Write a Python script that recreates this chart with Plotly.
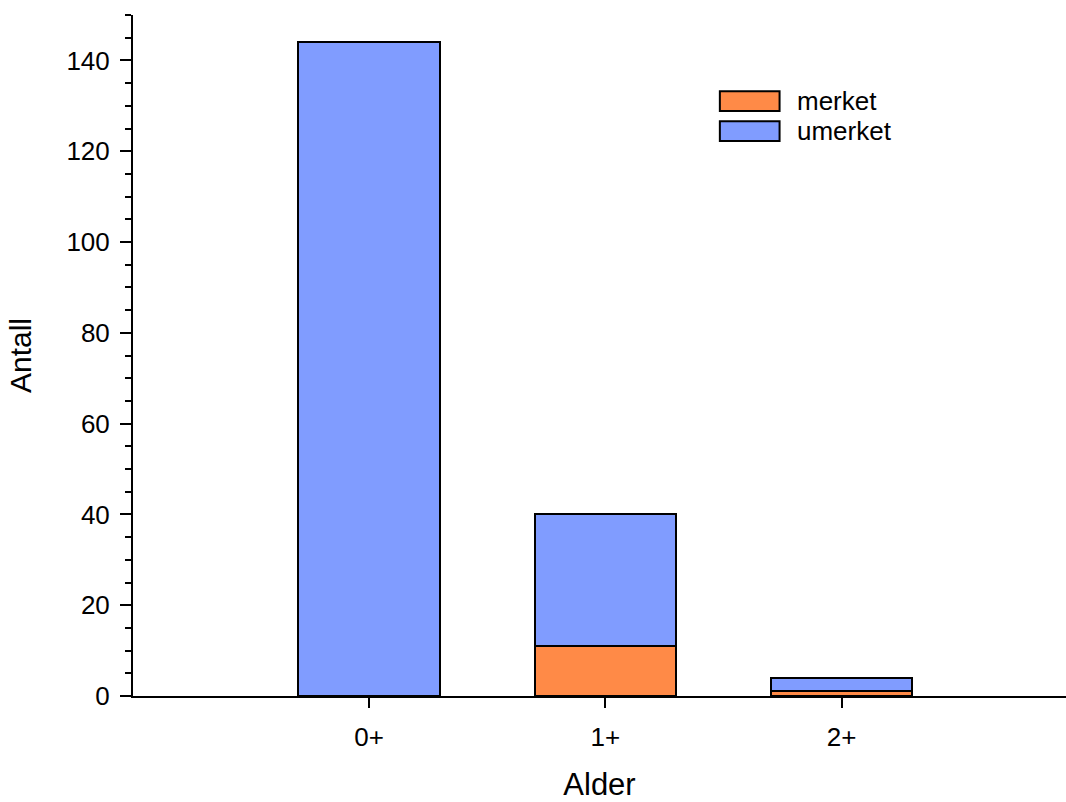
import plotly.graph_objects as go

# Age groups and counts per group
alder = ["0+", "1+", "2+"]
merket = [0, 11, 1]
umerket = [144, 29, 3]

serie_navn = ["merket", "umerket"]
farger = ["#FF8A47", "#809CFF"]

font_family = "Liberation Sans, Arial, sans-serif"

fig = go.Figure()
for navn, verdier, farge in zip(serie_navn, [merket, umerket], farger):
    fig.add_trace(go.Bar(
        x=alder, y=verdier, name=navn, width=0.6,
        marker=dict(color=farge, line=dict(color="black", width=2)),
        showlegend=False,
    ))

# Legend drawn as wide swatches with labels
swatch_y = [(0.888, 0.859), (0.844, 0.815)]
text_y = [0.874, 0.830]
for navn, farge, (y0, y1), ty in zip(serie_navn, farger, swatch_y, text_y):
    fig.add_shape(type="rect", xref="paper", yref="paper",
                  x0=0.629, x1=0.693, y0=y1, y1=y0,
                  fillcolor=farge, line=dict(color="black", width=2))
    fig.add_annotation(xref="paper", yref="paper", x=0.710, y=ty,
                       text=navn, showarrow=False, xanchor="left", yanchor="middle",
                       font=dict(size=26, color="black", family=font_family))

fig.update_layout(
    barmode="stack",
    width=1066, height=802,
    margin=dict(l=133, r=0, t=15, b=106),
    plot_bgcolor="white", paper_bgcolor="white",
    font=dict(family=font_family, color="black", size=26),
    xaxis=dict(
        type="category", range=[-1, 2.95], automargin=False,
        showline=True, linecolor="black", linewidth=2,
        ticks="outside", ticklen=10, tickwidth=2, tickcolor="black",
        showgrid=False, zeroline=False,
        tickfont=dict(size=26), ticklabelstandoff=7,
        title=dict(text="Alder", font=dict(size=31), standoff=39),
    ),
    yaxis=dict(
        range=[0, 150], dtick=20, automargin=False,
        showline=True, linecolor="black", linewidth=2,
        ticks="outside", ticklen=11, tickwidth=2, tickcolor="black",
        minor=dict(dtick=5, ticks="outside", ticklen=6, tickwidth=2, tickcolor="black", showgrid=False),
        showgrid=False, zeroline=False,
        tickfont=dict(size=26), ticklabelstandoff=5,
        title=dict(text="Antall", font=dict(size=30), standoff=26),
    ),
)

fig.write_html("out.html")
